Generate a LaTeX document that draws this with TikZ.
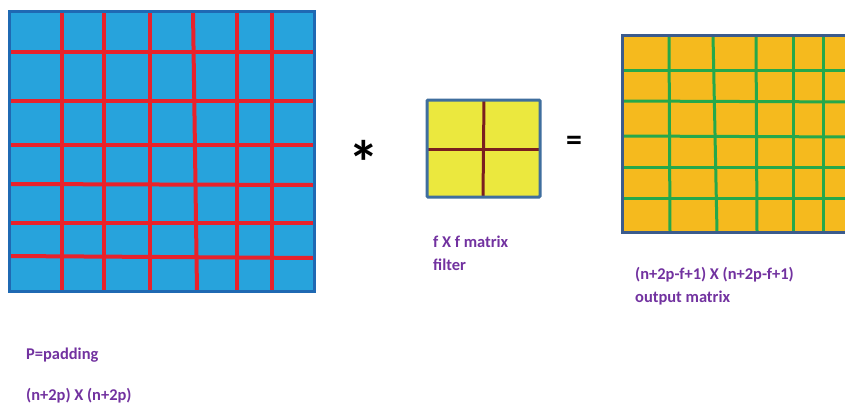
\documentclass[tikz,border=0pt]{standalone}
\usepackage{fontspec}
\setmainfont{Carlito}
\definecolor{bluefill}{HTML}{27A3DC}
\definecolor{blueedge}{HTML}{1F69B3}
\definecolor{gridred}{HTML}{E8222B}
\definecolor{yelfill}{HTML}{EBE83E}
\definecolor{yeledge}{HTML}{3F6E9E}
\definecolor{brownline}{HTML}{7A1F1F}
\definecolor{orfill}{HTML}{F5BA1E}
\definecolor{oredge}{HTML}{3B5B8C}
\definecolor{gridgreen}{HTML}{25A84B}
\definecolor{txtpurple}{HTML}{7232A0}
\tikzset{
  lbl/.style={text=txtpurple, font=\fontsize{16.5}{19}\selectfont\bfseries, anchor=west, inner sep=0pt},
  redline/.style={draw=gridred, line width=4bp},
  greenline/.style={draw=gridgreen, line width=3bp},
  brownl/.style={draw=brownline, line width=3bp},
}
\begin{document}
\begin{tikzpicture}[x=1bp,y=-1bp]
\clip (0,0) rectangle (845,407);
\fill[white] (0,0) rectangle (845,407);
% input padded matrix
\fill[bluefill] (9,11) rectangle (314,291);
\foreach \a/\b in {62/62,104/104,150/150,193/197,237/237,272/272}
  \draw[redline] (\a,11) -- (\b,291);
\foreach \a/\b in {52/52,101/101,145/145,184/185,223/223,256/258}
  \draw[redline] (9,\a) -- (314,\b);
\draw[blueedge, line width=3bp] (9,11) rectangle (314,291);
% operator
\node[inner sep=0pt, anchor=center] (star) at (364,162) {\fontsize{62}{62}\selectfont\bfseries *};
% filter
\fill[yelfill] (427,100) rectangle (540,197);
\draw[brownl] (484,100) -- (483,197);
\draw[brownl] (427,149) -- (540,149);
\draw[yeledge, line width=3bp, rounded corners=1bp] (427,100) rectangle (540,197);
\node[inner sep=0pt] (eq) at (574,143) {\fontsize{32}{32}\selectfont\bfseries =};
% output
\fill[orfill] (622,35) rectangle (860,232);
\foreach \a/\b in {669/670,713/717,756/757,793/793,823/823}
  \draw[greenline] (\a,35) -- (\b,232);
\foreach \a/\b in {70/70,101/102,136/137,167/167,198/198}
  \draw[greenline] (622,\a) -- (860,\b);
\draw[oredge, line width=3bp] (622,35) rectangle (860,232);
% labels
\node[lbl] (f1) at (433,242) {f X f matrix};
\node[lbl] (f2) at (433,265) {filter};
\node[lbl] (o1) at (635,275) {(n+2p-f+1) X (n+2p-f+1)};
\node[lbl] (o2) at (635,298) {output matrix};
\node[lbl] (p1) at (26,355) {P=padding};
\node[lbl] (p2) at (26,396) {(n+2p) X (n+2p)};
\end{tikzpicture}
\end{document}
